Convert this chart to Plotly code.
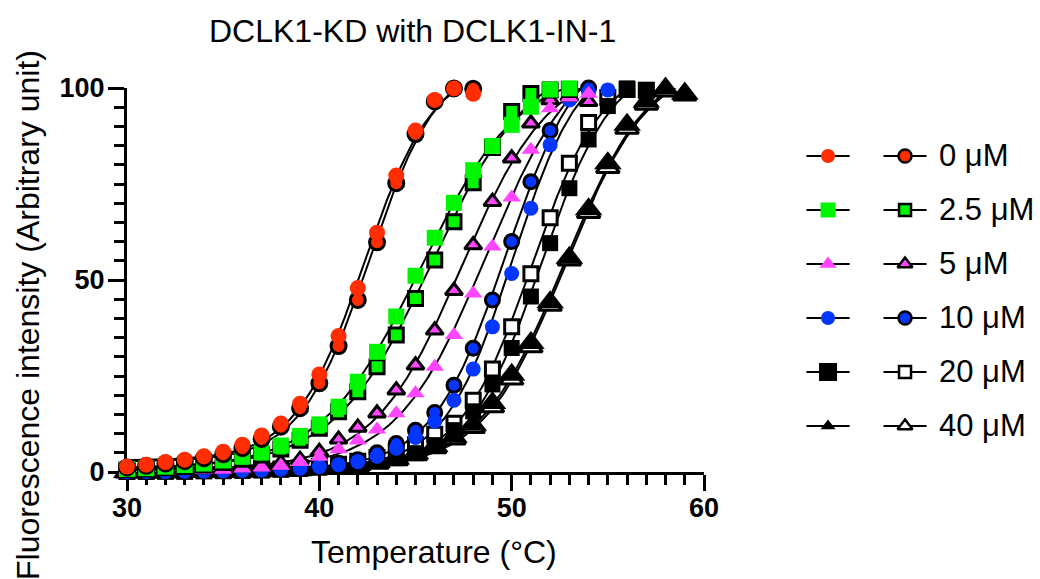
import numpy as np
import plotly.graph_objects as go

# ---------------- data ----------------
conc_labels = ["0 μM", "2.5 μM", "5 μM", "10 μM", "20 μM", "40 μM"]

temps_0 = list(range(30, 49))
temps_2p5 = list(range(30, 54))
temps_5 = list(range(30, 55))
temps_10_fill = list(range(30, 56))
temps_10_open = list(range(30, 55))
temps_20 = list(range(30, 58))
temps_40 = list(range(30, 60))

fill_0 = [1.4, 1.9, 2.6, 3.2, 4.1, 5.3, 7.1, 9.5, 12.6, 17.8, 25.4, 35.4, 47.9, 62.3,
          77.2, 88.9, 96.9, 99.9, 98.5]
open_0 = [1.2, 1.6, 2.2, 2.8, 3.6, 4.6, 6.2, 8.6, 11.8, 16.6, 23.1, 32.8, 44.8, 59.8,
          75.2, 88.0, 96.5, 99.9, 99.8]

fill_2p5 = [0.8, 1.0, 1.4, 1.8, 2.2, 3.0, 4.0, 5.1, 6.9, 9.4, 12.4, 17.0, 23.5, 31.3,
            40.5, 51.1, 61.0, 70.1, 78.6, 84.9, 90.4, 95.1, 99.6, 99.9]
open_2p5 = [0.6, 0.8, 1.1, 1.4, 1.8, 2.5, 3.3, 4.4, 6.0, 8.3, 11.4, 15.7, 20.9, 27.4,
            35.7, 45.2, 55.2, 65.2, 75.3, 84.5, 93.9, 98.6, 99.5, 99.6]

fill_5 = [0.2, 0.2, 0.3, 0.4, 0.5, 0.6, 0.9, 1.2, 1.6, 2.6, 4.0, 5.9, 8.2, 11.1, 15.3,
          20.5, 27.4, 35.7, 46.5, 58.7, 71.5, 83.9, 94.7, 97.5, 98.5]
open_5 = [0.2, 0.3, 0.4, 0.6, 0.8, 1.0, 1.3, 1.7, 2.3, 3.2, 5.3, 8.5, 11.6, 15.3, 21.3,
          27.8, 36.9, 47.2, 59.1, 70.4, 81.7, 90.8, 96.9, 97.8, 96.4]

fill_10 = [0.0, 0.1, 0.1, 0.2, 0.2, 0.3, 0.4, 0.5, 0.7, 1.0, 1.4, 1.9, 2.7, 4.1, 6.2,
           9.0, 13.2, 18.7, 26.8, 37.8, 51.7, 68.7, 85.2, 96.9, 99.0, 99.5]
open_10 = [0.1, 0.1, 0.2, 0.2, 0.3, 0.4, 0.5, 0.6, 0.9, 1.2, 1.7, 2.3, 3.2, 5.0, 7.4,
           10.9, 15.5, 22.6, 32.2, 44.8, 60.0, 75.6, 88.9, 97.3, 100.0]

fill_20 = [0.0, 0.0, 0.1, 0.1, 0.2, 0.2, 0.3, 0.4, 0.6, 0.8, 1.1, 1.5, 2.1, 2.9, 3.6,
           4.9, 7.0, 10.9, 15.8, 22.8, 32.3, 45.7, 59.6, 73.9, 86.6, 95.3, 99.9, 99.5]
open_20 = [0.1, 0.1, 0.2, 0.2, 0.3, 0.4, 0.5, 0.6, 0.8, 1.1, 1.5, 2.0, 2.8, 3.8, 5.2,
           7.1, 9.8, 12.7, 18.7, 26.8, 37.8, 51.6, 66.2, 80.4, 91.0, 97.5, 99.6, 99.4]

fill_40 = [0.0, 0.0, 0.1, 0.1, 0.1, 0.2, 0.3, 0.4, 0.5, 0.7, 1.0, 1.4, 1.9, 2.6, 3.5,
           4.9, 6.8, 9.2, 12.3, 18.0, 25.3, 33.6, 44.2, 55.8, 68.4, 80.4, 90.4, 96.5,
           99.9, 98.6]
open_40 = [0.0, 0.0, 0.0, 0.1, 0.1, 0.2, 0.2, 0.3, 0.4, 0.6, 0.9, 1.2, 1.7, 2.3, 3.2,
           4.5, 6.3, 8.6, 11.6, 17.0, 24.2, 32.6, 43.4, 55.2, 67.6, 79.3, 89.5, 95.8,
           99.2, 98.2]

x_ticks = [30, 40, 50, 60]
y_ticks = [0, 50, 100]

# ---------------- styles ----------------
RED, GREEN, MAG, BLUE, BLACK = "#FF2D00", "#00F500", "#FF45FF", "#0536FF", "#000000"
FONT = "Liberation Sans, Arial, Helvetica, sans-serif"

series = [
    # (label, temps_fill, fill, temps_open, open, symbol, color, open_fill,
    #  size_fill, size_open, legend_fill_size, legend_open_size)
    ("0 μM", temps_0, fill_0, temps_0, open_0, "circle", RED, RED, 16, 15, 14, 13),
    ("2.5 μM", temps_2p5, fill_2p5, temps_2p5, open_2p5, "square", GREEN, GREEN, 16, 14, 15, 12),
    ("5 μM", temps_5, fill_5, temps_5, open_5, "triangle-up", MAG, MAG, 16, 15, 15, 13),
    ("10 μM", temps_10_fill, fill_10, temps_10_open, open_10, "circle", BLUE, BLUE, 15, 14, 14, 13),
    ("20 μM", temps_20, fill_20, temps_20, open_20, "square", BLACK, "white", 16, 14, 18, 12),
    ("40 μM", temps_40, fill_40, temps_40, open_40, "triangle-up", BLACK, "white", 24, 20, 13, 13),
]


def boltzmann_fit(t, y):
    t = np.asarray(t, float)
    y = np.asarray(y, float)
    tm_grid = np.arange(34.0, 60.0, 0.05)
    s_grid = np.arange(0.6, 6.0, 0.02)
    TM, S = np.meshgrid(tm_grid, s_grid, indexing="ij")
    F = 1.0 / (1.0 + np.exp((TM[..., None] - t) / S[..., None]))
    fm = F.mean(-1)
    ym = y.mean()
    Fc = F - fm[..., None]
    cov = (Fc * (y - ym)).sum(-1)
    var = (Fc ** 2).sum(-1)
    sse = ((y - ym) ** 2).sum() - cov ** 2 / var
    idx = np.unravel_index(np.nanargmin(sse), sse.shape)
    d = cov[idx] / var[idx]
    b = ym - d * fm[idx]
    return b, d, TM[idx], S[idx]


fig = go.Figure()

# fitted curves (under the markers)
for lab, tf, yf, to, yo, sym, col, ofill, sf, so, lf, lo in series:
    for tt, yy in ((tf, yf), (to, yo)):
        b, d, tm, s = boltzmann_fit(tt, yy)
        xs = np.linspace(min(tt), max(tt), 300)
        ys = b + d / (1.0 + np.exp((tm - xs) / s))
        fig.add_trace(go.Scatter(x=xs, y=ys, mode="lines", line=dict(color="black", width=2),
                                 hoverinfo="skip", showlegend=False, cliponaxis=False,
                                 xaxis="x", yaxis="y"))

# markers: highest concentration first so that 0 μM ends on top
for lab, tf, yf, to, yo, sym, col, ofill, sf, so, lf, lo in reversed(series):
    fig.add_trace(go.Scatter(x=to, y=yo, mode="markers", name=lab + " (2)", showlegend=False,
                             cliponaxis=False,
                             marker=dict(symbol=sym, size=so, color=ofill,
                                         line=dict(color="black", width=3))))
    fig.add_trace(go.Scatter(x=tf, y=yf, mode="markers", name=lab, showlegend=False,
                             cliponaxis=False,
                             marker=dict(symbol=sym, size=sf, color=col, line=dict(width=0))))

# custom two-column legend drawn on its own hidden axes
for i, (lab, tf, yf, to, yo, sym, col, ofill, sf, so, lf, lo) in enumerate(series):
    for c in (0, 1):
        fig.add_trace(go.Scatter(x=[c - 0.28, c + 0.28], y=[i, i], mode="lines",
                                 line=dict(color="black", width=2), showlegend=False,
                                 hoverinfo="skip", xaxis="x2", yaxis="y2"))
    fig.add_trace(go.Scatter(x=[0], y=[i], mode="markers", showlegend=False, hoverinfo="skip",
                             xaxis="x2", yaxis="y2", cliponaxis=False,
                             marker=dict(symbol=sym, size=lf, color=col, line=dict(width=0))))
    fig.add_trace(go.Scatter(x=[1], y=[i], mode="markers", showlegend=False, hoverinfo="skip",
                             xaxis="x2", yaxis="y2", cliponaxis=False,
                             marker=dict(symbol=sym, size=lo, color=ofill,
                                         line=dict(color="black", width=2.5))))

annotations = []
for i, lab in enumerate(conc_labels):
    annotations.append(dict(text=lab, x=1.42, y=i, xref="x2", yref="y2", xanchor="left",
                            yanchor="middle", showarrow=False,
                            font=dict(family=FONT, size=31, color="black")))

W, H = 1040, 579
ML, MR, MT, MB = 127, 5, 88, 107
PW = W - ML - MR
PH = H - MT - MB


def px_x(p):
    return (p - ML) / PW


def px_y(p):
    return (H - MB - p) / PH


annotations += [
    dict(text="DCLK1-KD with DCLK1-IN-1", x=px_x(412), y=px_y(31), xref="paper", yref="paper",
         xanchor="center", yanchor="middle", showarrow=False,
         font=dict(family=FONT, size=32, color="black")),
    dict(text="Temperature (°C)", x=px_x(434), y=px_y(552), xref="paper", yref="paper",
         xanchor="center", yanchor="middle", showarrow=False,
         font=dict(family=FONT, size=32, color="black")),
    dict(text="Fluorescence intensity (Arbitrary unit)", x=px_x(28), y=px_y(315),
         xref="paper", yref="paper", xanchor="center", yanchor="middle", textangle=-90,
         showarrow=False, font=dict(family=FONT, size=32, color="black")),
]

axis_common = dict(showgrid=False, zeroline=False, showline=True, linecolor="black",
                   linewidth=3, ticks="outside", ticklen=16, tickwidth=3, tickcolor="black",
                   tickfont=dict(family=FONT, size=27, color="black", weight="bold"),
                   layer="below traces", fixedrange=True, automargin=False)

fig.update_layout(
    width=W, height=H,
    margin=dict(l=ML, r=MR, t=MT, b=MB, pad=0, autoexpand=False),
    paper_bgcolor="white", plot_bgcolor="white",
    showlegend=False,
    xaxis=dict(domain=[0, (704 - ML) / PW], range=[30, 60], tickmode="array",
               tickvals=x_ticks, anchor="y", ticklabelstandoff=-6,
               minor=dict(ticks="outside", ticklen=10, tickwidth=3, tickcolor="black",
                          dtick=1, tick0=30, showgrid=False),
               **axis_common),
    yaxis=dict(domain=[0, 1], range=[0, 100], tickmode="array", tickvals=y_ticks,
               anchor="x", ticklabelstandoff=-2,
               minor=dict(ticks="outside", ticklen=10, tickwidth=3, tickcolor="black",
                          dtick=5, tick0=0, showgrid=False),
               **axis_common),
    xaxis2=dict(domain=[px_x(790), 1], range=[-0.494, 2.688], visible=False,
                anchor="y2", fixedrange=True),
    yaxis2=dict(domain=[0, 1], range=[5.852, -1.259], visible=False, anchor="x2",
                fixedrange=True),
    annotations=annotations,
)

fig.write_html("out.html", config={"displayModeBar": False},
               post_script="document.body.style.margin='0px';document.body.style.overflow='hidden';")
